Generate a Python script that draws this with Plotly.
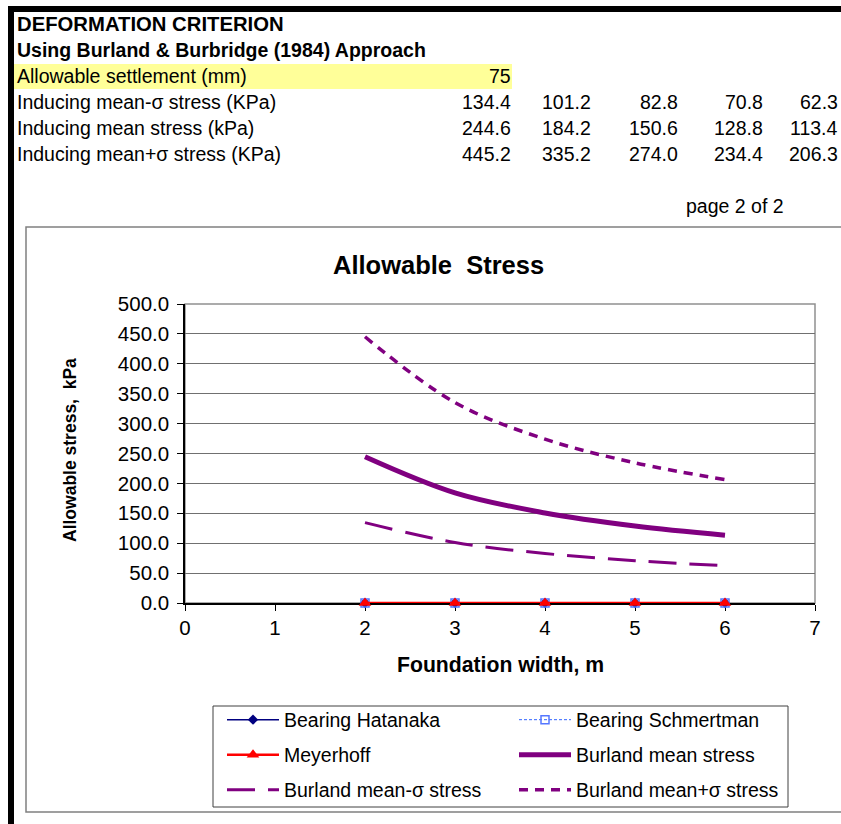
import plotly.graph_objects as go

# ---------------- data ----------------
widths = [2, 3, 4, 5, 6]
hatanaka = [0, 0, 0, 0, 0]
schmertman = [0, 0, 0, 0, 0]
meyerhoff = [0, 0, 0, 0, 0]
mean_minus = [134.4, 101.2, 82.8, 70.8, 62.3]
mean_stress = [244.6, 184.2, 150.6, 128.8, 113.4]
mean_plus = [445.2, 335.2, 274.0, 234.4, 206.3]
allowable_settlement = 75

header_lines = ["DEFORMATION CRITERION", "Using Burland & Burbridge (1984) Approach"]
row_labels = ["Allowable settlement (mm)", "Inducing mean-σ stress (KPa)",
              "Inducing mean stress (kPa)", "Inducing mean+σ stress (KPa)"]
x_ticks = [0, 1, 2, 3, 4, 5, 6, 7]
y_ticks = [0, 50, 100, 150, 200, 250, 300, 350, 400, 450, 500]

W, H = 841, 824
FONT = "Liberation Sans, Arial, sans-serif"
PURPLE = "#800080"


def X(px):
    return px / W


def Y(py):
    return 1 - py / H


fig = go.Figure()

series = [
    dict(name="Bearing Hatanaka", y=hatanaka, line=dict(color="#000080", width=1.5),
         marker=dict(symbol="diamond", size=8, color="#000080"), mode="lines+markers", shape="linear"),
    dict(name="Bearing Schmertman", y=schmertman, line=dict(color="#3366FF", width=1, dash="3px,2px"),
         marker=dict(symbol="square-open", size=8, color="#5577FF", line=dict(width=1.5)),
         mode="lines+markers", shape="linear"),
    dict(name="Meyerhoff", y=meyerhoff, line=dict(color="#FF0000", width=2.5),
         marker=dict(symbol="triangle-up", size=11, color="#FF0000"), mode="lines+markers", shape="linear"),
    dict(name="Burland mean stress", y=mean_stress, line=dict(color=PURPLE, width=5),
         marker=None, mode="lines", shape="spline"),
    dict(name="Burland mean-σ stress", y=mean_minus, line=dict(color=PURPLE, width=3, dash="28px,13px"),
         marker=None, mode="lines", shape="spline"),
    dict(name="Burland mean+σ stress", y=mean_plus, line=dict(color=PURPLE, width=3.5, dash="9px,7px"),
         marker=None, mode="lines", shape="spline"),
]

legend_pos = [(222, 720), (514, 720), (222, 755), (514, 755), (222, 790), (514, 790)]

for i, s in enumerate(series):
    ln = dict(s["line"])
    ln["shape"] = s["shape"]
    kw = dict(x=widths, y=s["y"], name=s["name"], mode=s["mode"], line=ln,
              cliponaxis=False, legend="legend" if i == 0 else f"legend{i+1}")
    if s["marker"] is not None:
        kw["marker"] = s["marker"]
    fig.add_trace(go.Scatter(**kw))

legend_common = dict(font=dict(family=FONT, size=19.5, color="black"), bgcolor="rgba(0,0,0,0)",
                     borderwidth=0, itemwidth=52, xanchor="left", yanchor="middle",
                     itemclick=False, itemdoubleclick=False)
layout_legends = {}
for i, (lx, ly) in enumerate(legend_pos):
    key = "legend" if i == 0 else f"legend{i+1}"
    layout_legends[key] = dict(legend_common, x=X(lx), y=Y(ly))

shapes = [
    # thick black page borders
    dict(type="rect", xref="paper", yref="paper", x0=X(8), x1=1.0, y0=Y(12), y1=Y(6),
         fillcolor="black", line=dict(width=0)),
    dict(type="rect", xref="paper", yref="paper", x0=X(8), x1=X(14), y0=0, y1=Y(6),
         fillcolor="black", line=dict(width=0)),
    # yellow highlight
    dict(type="rect", xref="paper", yref="paper", x0=X(14), x1=X(512), y0=Y(89), y1=Y(64),
         fillcolor="#FFFF99", line=dict(width=0), layer="below"),
    # chart box
    dict(type="rect", xref="paper", yref="paper", x0=X(26), x1=X(860), y0=Y(812), y1=Y(227),
         fillcolor="rgba(0,0,0,0)", line=dict(color="#808080", width=1.5)),
    # plot area border
    dict(type="rect", xref="paper", yref="paper", x0=X(185), x1=X(815), y0=Y(603), y1=Y(304),
         fillcolor="rgba(0,0,0,0)", line=dict(color="#909090", width=1.5), layer="below"),
    # legend box
    dict(type="rect", xref="paper", yref="paper", x0=X(213), x1=X(788), y0=Y(807), y1=Y(706),
         fillcolor="rgba(0,0,0,0)", line=dict(color="#404040", width=1)),
]

annotations = []


def txt(text, px, py, size=19.5, bold=False, anchor="left", angle=0):
    annotations.append(dict(text=f"<b>{text}</b>" if bold else text, x=X(px), y=Y(py),
                            xref="paper", yref="paper", showarrow=False, xanchor=anchor,
                            yanchor="middle", textangle=angle,
                            font=dict(family=FONT, size=size, color="black")))


row_y = [24, 50, 76, 102, 128, 154]
txt(header_lines[0], 15, row_y[0], size=20.3, bold=True)
txt(header_lines[1], 15, row_y[1], bold=True)
for lbl, yy in zip(row_labels, row_y[2:]):
    txt(lbl, 15, yy)
col_right = [513, 593, 680, 765, 840]
txt(str(allowable_settlement), col_right[0], row_y[2], anchor="right")
for vals, yy in zip([mean_minus, mean_stress, mean_plus], row_y[3:]):
    for v, cx in zip(vals, col_right):
        txt(f"{v:.1f}", cx, yy, anchor="right")
txt("page 2 of 2", 786, 206, anchor="right")

txt("Allowable  Stress", 438, 265, size=25.5, bold=True, anchor="center")
txt("Foundation width, m", 500, 664, size=21.2, bold=True, anchor="center")
txt("Allowable stress,  kPa", 70, 450, size=17.5, bold=True, anchor="center", angle=-90)

fig.update_layout(
    width=W, height=H, margin=dict(l=0, r=0, t=0, b=0, autoexpand=False),
    paper_bgcolor="white", plot_bgcolor="white",
    showlegend=True, shapes=shapes, annotations=annotations,
    xaxis=dict(domain=[X(185), X(815)], range=[0, 7], tickvals=x_ticks, showgrid=False,
               zeroline=False, showline=True, linecolor="black", linewidth=1.5,
               ticks="outside", ticklen=6, tickcolor="black", tickwidth=1.2,
               layer="below traces",
               tickfont=dict(family=FONT, size=20.5, color="black")),
    yaxis=dict(domain=[Y(603), Y(304)], range=[0, 500], tickvals=y_ticks, tickformat=".1f",
               showgrid=True, gridcolor="#707070", gridwidth=1.3, zeroline=False,
               showline=True, linecolor="black", linewidth=1.5,
               ticks="outside", ticklen=6, tickcolor="black", tickwidth=1.2,
               ticklabelstandoff=4, layer="below traces",
               tickfont=dict(family=FONT, size=20.5, color="black")),
    **layout_legends,
)

fig.write_html(
    "out.html",
    config={"displayModeBar": False},
    post_script="document.documentElement.style.margin='0';document.body.style.margin='0';"
                "document.body.style.overflow='hidden';",
)
